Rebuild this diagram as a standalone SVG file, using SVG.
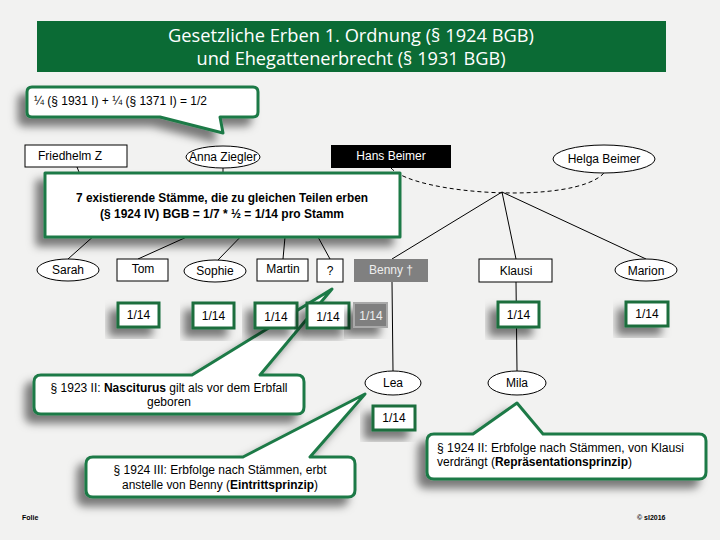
<svg xmlns="http://www.w3.org/2000/svg" width="720" height="540" viewBox="0 0 720 540">
<style>
text{font-family:"Liberation Sans",Arial,sans-serif;font-size:12px;fill:#000}
.title{font-family:"Open Sans","Noto Sans",sans-serif;font-size:18px;fill:#fff;text-anchor:middle}
.c{text-anchor:middle}
text.w{fill:#fff}
text.lg{fill:#eeeeee}
.node{fill:#fff;stroke:#000;stroke-width:1}
.ln{stroke:#000;stroke-width:1;fill:none}
.call{fill:#fff;stroke:#1f7a47;stroke-width:3;stroke-linejoin:round}
.frac{fill:#fff;stroke:#1c6e3e;stroke-width:3}
.b{font-weight:bold}
.tiny{font-size:7px;font-weight:bold}
</style>
<defs>
<filter id="sh" x="-30%" y="-40%" width="160%" height="190%">
<feDropShadow dx="-8" dy="8" stdDeviation="4.5" flood-color="#000" flood-opacity="0.5"/>
</filter>
</defs>
<rect x="0" y="0" width="720" height="540" fill="#f2f2f1"/>
<g id="title">
<rect x="37" y="21" width="629" height="51" fill="#0b6b35"/>
<text class="title" x="351" y="42" textLength="366" lengthAdjust="spacingAndGlyphs">Gesetzliche Erben 1. Ordnung (§ 1924 BGB)</text>
<text class="title" x="351" y="65" textLength="309" lengthAdjust="spacingAndGlyphs">und Ehegattenerbrecht (§ 1931 BGB)</text>
</g>
<g id="connectors">
<line class="ln" x1="77" y1="167" x2="90" y2="200"/>
<line class="ln" x1="223" y1="168" x2="223" y2="200"/>
<path class="ln" d="M391,168 C415,195 575,205 604,173" stroke-dasharray="4,3"/>
<line class="ln" x1="105" y1="226" x2="68" y2="259"/>
<line class="ln" x1="211" y1="226" x2="138" y2="259"/>
<line class="ln" x1="251" y1="226" x2="218" y2="260"/>
<line class="ln" x1="286" y1="226" x2="283" y2="259"/>
<line class="ln" x1="312" y1="226" x2="330" y2="259"/>
<line class="ln" x1="502" y1="192" x2="392" y2="259"/>
<line class="ln" x1="502" y1="192" x2="516" y2="259"/>
<line class="ln" x1="502" y1="192" x2="646" y2="259"/>
<line class="ln" x1="392" y1="282" x2="393" y2="371"/>
<line class="ln" x1="516" y1="282" x2="517" y2="371"/>
</g>
<g id="friedhelm"><rect class="node" x="25" y="145" width="102" height="22"/><text x="38" y="160">Friedhelm Z</text><text class="w" x="110" y="160">†</text></g>
<g id="anna"><ellipse class="node" cx="223" cy="157" rx="37" ry="11"/><text class="c" x="223" y="161">Anna Ziegler</text></g>
<g id="hans"><rect x="331" y="145" width="120" height="23" fill="#000"/><text class="c w" x="391" y="160">Hans Beimer</text></g>
<g id="helga"><ellipse class="node" cx="604" cy="159" rx="51" ry="14"/><text class="c" x="604" y="163">Helga Beimer</text></g>
<g id="sarah"><ellipse class="node" cx="68" cy="270" rx="31" ry="11"/><text class="c" x="68" y="274">Sarah</text></g>
<g id="tom"><rect class="node" x="117" y="259" width="51" height="22"/><text class="c" x="143" y="273">Tom</text></g>
<g id="sophie"><ellipse class="node" cx="215" cy="271" rx="31" ry="11"/><text class="c" x="215" y="275">Sophie</text></g>
<g id="martin"><rect class="node" x="257" y="259" width="51" height="22"/><text class="c" x="283" y="273">Martin</text></g>
<g id="unknown"><rect class="node" x="317" y="259" width="26" height="23"/><text class="c" x="330" y="275">?</text></g>
<g id="benny"><rect x="354" y="259" width="74" height="23" fill="#808080"/><text class="c lg" x="391" y="274">Benny †</text></g>
<g id="klausi"><rect class="node" x="479" y="259" width="73" height="23"/><text class="c" x="516" y="275">Klausi</text></g>
<g id="marion"><ellipse class="node" cx="646" cy="270" rx="31" ry="11"/><text class="c" x="646" y="275">Marion</text></g>
<g id="lea"><ellipse class="node" cx="393" cy="383" rx="28" ry="12"/><text class="c" x="393" y="387">Lea</text></g>
<g id="mila"><ellipse class="node" cx="517" cy="383" rx="29" ry="12"/><text class="c" x="517" y="387">Mila</text></g>
<g id="callout-staemme">
<rect class="call" filter="url(#sh)" x="45" y="173" width="355" height="64" stroke-linejoin="miter"/>
<text class="c b" x="222" y="202" textLength="292" lengthAdjust="spacingAndGlyphs">7 existierende Stämme, die zu gleichen Teilen erben</text>
<text class="c b" x="222" y="218" textLength="244" lengthAdjust="spacingAndGlyphs">(§ 1924 IV) BGB = 1/7 * ½ = 1/14 pro Stamm</text>
</g>
<g id="callout-ehegatte">
<path class="call" filter="url(#sh)" d="M32,87 H253 Q258,87 258,92 V112 Q258,117 253,117 H220 L223,133 L160,117 H32 Q27,117 27,112 V92 Q27,87 32,87 Z"/>
<text x="34" y="105" font-size="11" textLength="173" lengthAdjust="spacingAndGlyphs">¼ (§ 1931 I) + ¼ (§ 1371 I) = 1/2</text>
</g>
<g id="callout-nasciturus">
<path class="call" filter="url(#sh)" d="M41,375 H192 L332,289 L260,375 H297 Q304,375 304,382 V407 Q304,414 297,414 H41 Q34,414 34,407 V382 Q34,375 41,375 Z"/>
<text class="c" x="169" y="392" textLength="237" lengthAdjust="spacingAndGlyphs">§ 1923 II: <tspan class="b">Nasciturus</tspan> gilt als vor dem Erbfall</text>
<text class="c" x="169" y="406">geboren</text>
</g>
<g id="callout-eintritt">
<path class="call" filter="url(#sh)" d="M93,457 H243 L365,394 L310,457 H348 Q355,457 355,464 V490 Q355,497 348,497 H93 Q86,497 86,490 V464 Q86,457 93,457 Z"/>
<text class="c" x="220" y="474" textLength="213" lengthAdjust="spacingAndGlyphs">§ 1924 III: Erbfolge nach Stämmen, erbt</text>
<text class="c" x="220" y="489" textLength="196" lengthAdjust="spacingAndGlyphs">anstelle von Benny (<tspan class="b">Eintrittsprinzip</tspan>)</text>
</g>
<g id="callout-repraesentation">
<path class="call" filter="url(#sh)" d="M434,434 H473 L517,403 L543,434 H699 Q706,434 706,441 V472 Q706,479 699,479 H434 Q427,479 427,472 V441 Q427,434 434,434 Z"/>
<text x="437" y="452" textLength="247" lengthAdjust="spacingAndGlyphs">§ 1924 II:  Erbfolge nach Stämmen, von Klausi</text>
<text x="437" y="466" textLength="195" lengthAdjust="spacingAndGlyphs">verdrängt (<tspan class="b">Repräsentationsprinzip</tspan>)</text>
</g>
<g id="share-tom"><rect class="frac" filter="url(#sh)" x="118" y="303" width="41" height="24"/><text class="c" x="138.5" y="319">1/14</text></g>
<g id="share-sophie"><rect class="frac" filter="url(#sh)" x="193" y="303" width="41" height="25"/><text class="c" x="213.5" y="320">1/14</text></g>
<g id="share-martin"><rect class="frac" filter="url(#sh)" x="255" y="303" width="42" height="25"/><text class="c" x="276" y="321">1/14</text></g>
<g id="share-unknown"><rect class="frac" filter="url(#sh)" x="307" y="303" width="42" height="25"/><text class="c" x="328" y="321">1/14</text></g>
<g id="share-benny"><rect filter="url(#sh)" x="354" y="303" width="33" height="24" fill="#7f7f7f" stroke="#a9a9a9" stroke-width="2"/><text class="c lg" x="371" y="320">1/14</text></g>
<g id="share-klausi"><rect class="frac" filter="url(#sh)" x="498" y="302" width="41" height="25"/><text class="c" x="518.5" y="319">1/14</text></g>
<g id="share-marion"><rect class="frac" filter="url(#sh)" x="626" y="302" width="42" height="24"/><text class="c" x="647" y="318">1/14</text></g>
<g id="share-lea"><rect class="frac" filter="url(#sh)" x="373" y="406" width="42" height="24"/><text class="c" x="394" y="422">1/14</text></g>
<text class="tiny" x="22" y="520">Folie</text>
<text class="tiny" x="637" y="520">© sl2016</text>
</svg>
